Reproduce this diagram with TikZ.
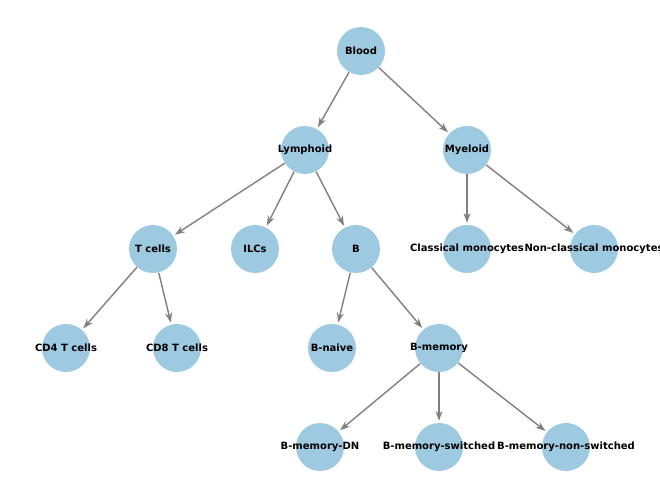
\documentclass[tikz,border=0pt]{standalone}
\usepackage{fontspec}
\setmainfont{DejaVu Sans}
\usetikzlibrary{arrows.meta}
\definecolor{cellblue}{HTML}{9ECAE1}
\begin{document}
\begin{tikzpicture}
  [
    x=0.02cm, y=-0.02cm,
    Cell/.style={circle, fill=cellblue, minimum size=0.96cm, inner sep=0pt},
    Name/.style={font=\fontsize{5.7}{6.5}\selectfont\bfseries},
    Edge/.style={-{Stealth[length=2mm,width=1.4mm]}, draw=gray, thick, shorten >=1pt}
  ]
  \useasboundingbox (0,0) rectangle (660,499);
  \clip (0,0) rectangle (660,499);
  % Nodes
  \foreach \name/\x/\y/\txt in {
      blood/361/51/Blood, lymph/305/150/Lymphoid, myelo/467/150/Myeloid,
      tcell/153/249/T cells, ilc/255/249/ILCs, bcell/356/249/B,
      cmono/467/249/Classical monocytes, ncmono/594/249/Non-classical monocytes,
      cdfour/66/348/CD4 T cells, cdeight/177/348/CD8 T cells,
      bnaive/332/348/B-naive, bmem/439/348/B-memory,
      bdn/320/447/B-memory-DN, bsw/439/447/B-memory-switched,
      bnsw/566/447/B-memory-non-switched}
    \node[Cell, label={[Name]center:\txt}] (\name) at (\x,\y) {};

  % Lines
  \foreach \a/\b in {blood/lymph, blood/myelo, lymph/tcell, lymph/ilc, lymph/bcell,
      myelo/cmono, myelo/ncmono, tcell/cdfour, tcell/cdeight, bcell/bnaive,
      bcell/bmem, bmem/bdn, bmem/bsw, bmem/bnsw}
    \draw[Edge] (\a) -- (\b);
\end{tikzpicture}
\end{document}
